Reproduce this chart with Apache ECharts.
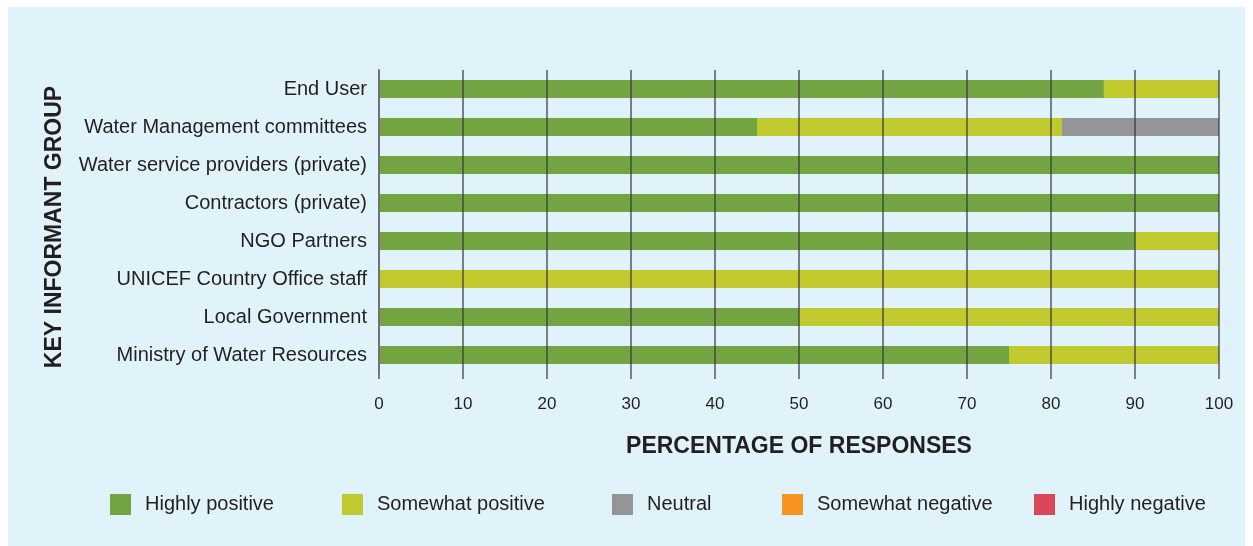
<!DOCTYPE html>
<html>
<head>
<meta charset="utf-8">
<script src="https://cdn.jsdelivr.net/npm/echarts@6/dist/echarts.min.js"></script>
<style>
  html, body { margin: 0; padding: 0; background: #ffffff; }
  #frame { position: absolute; left: 8px; top: 7px; width: 1237px; height: 539px; background: #e0f3fa; }
  #chart { position: absolute; left: 0; top: 0; width: 1253px; height: 546px; }
</style>
</head>
<body>
<div id="frame"></div>
<div id="chart"></div>
<script>
// Key informant groups, top to bottom
const groups = [
  'End User',
  'Water Management committees',
  'Water service providers (private)',
  'Contractors (private)',
  'NGO Partners',
  'UNICEF Country Office staff',
  'Local Government',
  'Ministry of Water Resources'
];

// Percentage of responses per rating
const highlyPositive   = [86.3, 45.0, 100, 100, 90, 0, 50, 75];
const somewhatPositive = [13.7, 36.3, 0, 0, 10, 100, 50, 25];
const neutral          = [0, 18.7, 0, 0, 0, 0, 0, 0];
const somewhatNegative = [0, 0, 0, 0, 0, 0, 0, 0];
const highlyNegative   = [0, 0, 0, 0, 0, 0, 0, 0];

const ratingNames = ['Highly positive', 'Somewhat positive', 'Neutral', 'Somewhat negative', 'Highly negative'];
const ratingColors = ['#73a442', '#c0c92e', '#959598', '#f7931e', '#d9475a'];
const ratingValues = [highlyPositive, somewhatPositive, neutral, somewhatNegative, highlyNegative];
const legendLeft = [110, 342, 612, 782, 1034];

const FONT = '"Liberation Sans", Arial, sans-serif';

const chart = echarts.init(document.getElementById('chart'), null, { renderer: 'canvas' });

chart.setOption({
  backgroundColor: 'transparent',
  animation: false,
  grid: { left: 379, right: 34, top: 70, height: 304, containLabel: false },
  xAxis: {
    type: 'value',
    min: 0,
    max: 100,
    interval: 10,
    z: 5,
    name: 'PERCENTAGE OF RESPONSES',
    nameLocation: 'middle',
    nameGap: 61,
    nameTextStyle: { fontFamily: FONT, fontWeight: 'bold', fontSize: 23, color: '#231f20' },
    axisLine: { show: false },
    axisTick: { show: true, length: 5, lineStyle: { color: '#7a7f84', width: 2 } },
    axisLabel: { fontFamily: FONT, fontSize: 17, color: '#231f20', margin: 22 },
    splitLine: { show: true, lineStyle: { color: 'rgba(55,55,60,0.62)', width: 2 } }
  },
  yAxis: {
    type: 'category',
    data: groups,
    inverse: true,
    z: 5,
    name: 'KEY INFORMANT GROUP',
    nameLocation: 'middle',
    nameRotate: 90,
    nameGap: 313,
    nameTextStyle: { fontFamily: FONT, fontWeight: 'bold', fontSize: 23, color: '#231f20', padding: [0, 10, 0, 0] },
    axisLine: { show: true, lineStyle: { color: '#6f7276', width: 2 } },
    axisTick: { show: false },
    axisLabel: { fontFamily: FONT, fontSize: 20, color: '#231f20', margin: 12 }
  },
  legend: ratingNames.map((n, i) => ({
    data: [n],
    left: legendLeft[i],
    top: 494,
    padding: 0,
    itemWidth: 21,
    itemHeight: 21,
    itemGap: 0,
    icon: 'rect',
    selectedMode: false,
    textStyle: { fontFamily: FONT, fontSize: 20, color: '#231f20', padding: [0, 0, 0, 9] }
  })),
  series: ratingNames.map((n, i) => ({
    name: n,
    type: 'bar',
    stack: 'total',
    barWidth: 18,
    itemStyle: { color: ratingColors[i] },
    emphasis: { disabled: true },
    data: ratingValues[i]
  }))
});
</script>
</body>
</html>
